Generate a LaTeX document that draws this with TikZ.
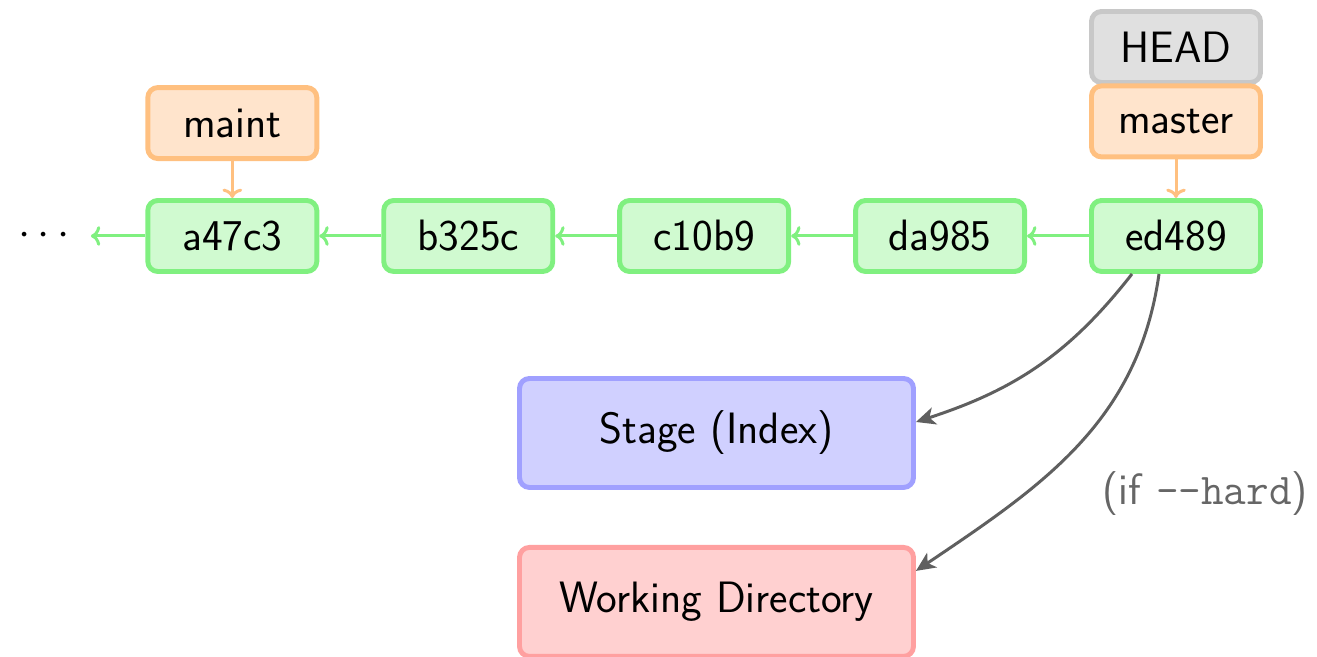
\documentclass[tikz,border=0pt]{standalone}
\usetikzlibrary{positioning,arrows.meta}

\definecolor{commitfill}{RGB}{208,250,208}
\definecolor{commitline}{RGB}{128,240,128}
\definecolor{branchfill}{RGB}{255,228,204}
\definecolor{branchline}{RGB}{255,192,128}
\definecolor{headfill}{RGB}{224,224,224}
\definecolor{headline}{RGB}{200,200,200}
\definecolor{stagefill}{RGB}{208,208,255}
\definecolor{stageline}{RGB}{160,160,255}
\definecolor{workfill}{RGB}{255,208,208}
\definecolor{workline}{RGB}{255,160,160}
\definecolor{resetgray}{RGB}{95,95,95}

\begin{document}
\begin{tikzpicture}[
  font=\sffamily\fontsize{25}{30}\selectfont,
  box/.style={rounded corners=0.2cm, line width=2.8pt, minimum width=3.38cm, minimum height=1.42cm, inner sep=0pt},
  commit/.style={box, draw=commitline, fill=commitfill},
  branch/.style={box, draw=branchline, fill=branchfill},
  headref/.style={box, draw=headline, fill=headfill},
  area/.style={rounded corners=0.2cm, line width=2.8pt, minimum width=7.88cm, minimum height=2.18cm},
  parent/.style={commitline, line width=1.7pt, ->},
  points/.style={branchline, line width=1.7pt, ->},
  reset/.style={resetgray, line width=1.7pt, -{Stealth[length=11pt,width=10pt,inset=3pt]}}]
  \useasboundingbox (0,0) rectangle (26.34,13.14);

  % commits
  \node[commit] (ed489) at (23.52,8.42) {ed489};
  \node[commit, left=1.24cm of ed489] (da985) {da985};
  \node[commit, left=1.24cm of da985] (c10b9) {c10b9};
  \node[commit, left=1.24cm of c10b9] (b325c) {b325c};
  \node[commit, left=1.24cm of b325c] (a47c3) {a47c3};
  \node[inner xsep=0.42cm] (dots) at (0.88,8.42) {$\cdots$};

  \draw[parent] (ed489) -- (da985);
  \draw[parent] (da985) -- (c10b9);
  \draw[parent] (c10b9) -- (b325c);
  \draw[parent] (b325c) -- (a47c3);
  \draw[parent] (a47c3) -- (dots);

  % refs
  \node[branch, above=0.74cm of a47c3] (maint) {maint};
  \node[headref] (head) at (23.52,12.2) {HEAD};
  \node[branch, below=-0.03cm of head] (master) {master};
  \draw[points] (maint) -- (a47c3);
  \draw[points] (master) -- (ed489);

  % stage and working directory
  \node[area, draw=stageline, fill=stagefill] (stage) at (14.33,4.48) {Stage (Index)};
  \node[area, draw=workline, fill=workfill, below=1.1cm of stage] (work) {Working Directory};

  \draw[reset] ([xshift=-0.88cm]ed489.south) to[out=-128,in=18] ([yshift=0.22cm]stage.east);
  \draw[reset] ([xshift=-0.34cm]ed489.south) to[out=-98,in=34] ([yshift=0.62cm]work.east);
  \node[text=black!60] (hard) at (24.1,3.26) {(if \texttt{--hard})};
\end{tikzpicture}
\end{document}
